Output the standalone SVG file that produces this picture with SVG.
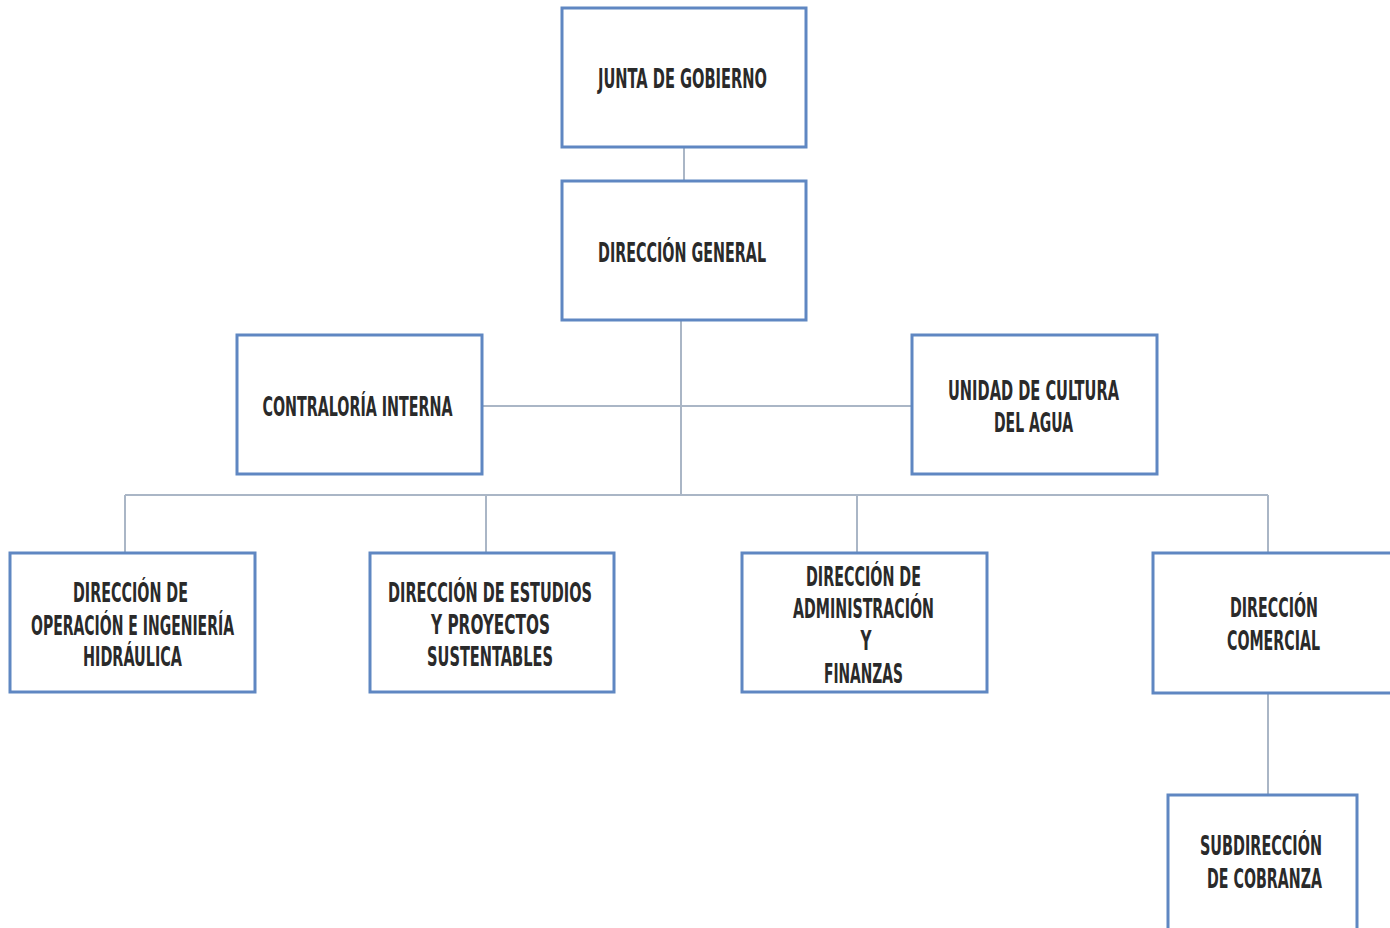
<svg xmlns="http://www.w3.org/2000/svg" width="1390" height="928" viewBox="0 0 1390 928">
<style>
.box{fill:#ffffff;stroke:#5f87c2;stroke-width:3}
.con{stroke:#aab6c6;stroke-width:2;fill:none}
text{font-family:"DejaVu Sans Condensed","DejaVu Sans",sans-serif;font-size:26px;font-weight:bold;fill:#2a2a2a;text-anchor:middle}
</style>
<rect width="1390" height="928" fill="#ffffff"/>
<g id="connectors">
<line class="con" x1="684" y1="147" x2="684" y2="181"/>
<line class="con" x1="681" y1="320" x2="681" y2="495"/>
<line class="con" x1="482" y1="406" x2="912" y2="406"/>
<line class="con" x1="125" y1="495" x2="1268" y2="495"/>
<line class="con" x1="125" y1="495" x2="125" y2="553"/>
<line class="con" x1="486" y1="495" x2="486" y2="553"/>
<line class="con" x1="857" y1="495" x2="857" y2="553"/>
<line class="con" x1="1268" y1="495" x2="1268" y2="553"/>
<line class="con" x1="1268" y1="693" x2="1268" y2="795"/>
</g>
<g id="junta">
<rect class="box" x="562" y="8" width="244" height="139"/>
<text x="682.5" y="88" textLength="169" lengthAdjust="spacingAndGlyphs">JUNTA DE GOBIERNO</text>
</g>
<g id="direccion-general">
<rect class="box" x="562" y="181" width="244" height="139"/>
<text x="682" y="262" textLength="168" lengthAdjust="spacingAndGlyphs">DIRECCIÓN GENERAL</text>
</g>
<g id="contraloria">
<rect class="box" x="237" y="335" width="245" height="139"/>
<text x="357.5" y="416" textLength="190" lengthAdjust="spacingAndGlyphs">CONTRALORÍA INTERNA</text>
</g>
<g id="cultura-agua">
<rect class="box" x="912" y="335" width="245" height="139"/>
<text x="1033.5" y="400" textLength="171" lengthAdjust="spacingAndGlyphs">UNIDAD DE CULTURA</text>
<text x="1033.5" y="432" textLength="79" lengthAdjust="spacingAndGlyphs">DEL AGUA</text>
</g>
<g id="operacion">
<rect class="box" x="10" y="553" width="245" height="139"/>
<text x="130.5" y="602" textLength="115" lengthAdjust="spacingAndGlyphs">DIRECCIÓN DE</text>
<text x="132.5" y="635" textLength="203" lengthAdjust="spacingAndGlyphs">OPERACIÓN E INGENIERÍA</text>
<text x="132.5" y="666" textLength="99" lengthAdjust="spacingAndGlyphs">HIDRÁULICA</text>
</g>
<g id="estudios">
<rect class="box" x="370" y="553" width="244" height="139"/>
<text x="490" y="602" textLength="204" lengthAdjust="spacingAndGlyphs">DIRECCIÓN DE ESTUDIOS</text>
<text x="490.5" y="634" textLength="119" lengthAdjust="spacingAndGlyphs">Y PROYECTOS</text>
<text x="490" y="666" textLength="126" lengthAdjust="spacingAndGlyphs">SUSTENTABLES</text>
</g>
<g id="administracion">
<rect class="box" x="742" y="553" width="245" height="139"/>
<text x="863.5" y="586" textLength="115" lengthAdjust="spacingAndGlyphs">DIRECCIÓN DE</text>
<text x="863.5" y="618" textLength="141" lengthAdjust="spacingAndGlyphs">ADMINISTRACIÓN</text>
<text x="866" y="650" textLength="11" lengthAdjust="spacingAndGlyphs">Y</text>
<text x="863.5" y="683" textLength="79" lengthAdjust="spacingAndGlyphs">FINANZAS</text>
</g>
<g id="comercial">
<path class="box" d="M1391,553 H1153 V693 H1391"/>
<text x="1274" y="617" textLength="88" lengthAdjust="spacingAndGlyphs">DIRECCIÓN</text>
<text x="1273.5" y="650" textLength="93" lengthAdjust="spacingAndGlyphs">COMERCIAL</text>
</g>
<g id="cobranza">
<path class="box" d="M1168,928 V795 H1357 V928"/>
<text x="1261" y="855" textLength="122" lengthAdjust="spacingAndGlyphs">SUBDIRECCIÓN</text>
<text x="1264.5" y="888" textLength="115" lengthAdjust="spacingAndGlyphs">DE COBRANZA</text>
</g>
</svg>
